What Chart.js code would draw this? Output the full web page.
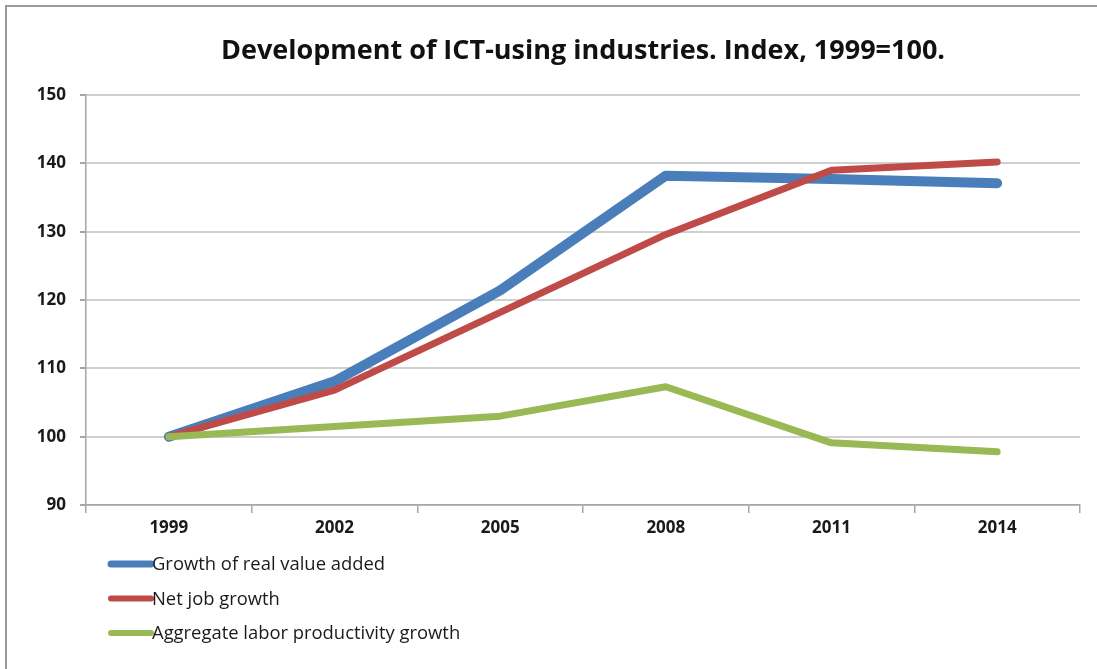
<!DOCTYPE html>
<html>
<head>
<meta charset="utf-8">
<script src="https://cdn.jsdelivr.net/npm/chart.js@4/dist/chart.umd.min.js"></script>
<style>
  html, body { margin: 0; padding: 0; background: #fff; overflow: hidden; }
  #wrap { position: relative; width: 1097px; height: 669px; }
  #frame { position: absolute; left: 5px; top: 5px; right: 0; bottom: 0;
           border-top: 2px solid #9a9a9a; border-left: 2px solid #9a9a9a; pointer-events: none; }
  canvas { display: block; }
</style>
</head>
<body>
<div id="wrap">
  <canvas id="chart" width="1097" height="669"></canvas>
  <div id="frame"></div>
</div>
<script>
const years = ['1999', '2002', '2005', '2008', '2011', '2014'];
const realValueAdded = [100, 108.1, 121.4, 138.2, 137.7, 137.1];
const netJobGrowth = [100, 106.8, 118.2, 129.6, 139.0, 140.2];
const laborProductivity = [100, 101.5, 103.0, 107.3, 99.1, 97.8];
const yTicks = [90, 100, 110, 120, 130, 140, 150];

const FONT = "'Open Sans', 'Liberation Sans', sans-serif";

// Vertical legend under the plot, drawn on the same canvas
const stackedLegend = {
  id: 'stackedLegend',
  afterDraw(chart) {
    const ctx = chart.ctx;
    const x0 = 111, x1 = 151, y0 = 564, step = 34.5;
    ctx.save();
    chart.data.datasets.forEach((ds, i) => {
      const y = y0 + i * step;
      ctx.beginPath();
      ctx.lineCap = 'round';
      ctx.strokeStyle = ds.borderColor;
      ctx.lineWidth = ds.legendWidth;
      ctx.moveTo(x0, y);
      ctx.lineTo(x1, y);
      ctx.stroke();
      ctx.fillStyle = '#1a1a1a';
      ctx.font = '18.4px ' + FONT;
      ctx.textBaseline = 'middle';
      ctx.textAlign = 'left';
      ctx.fillText(ds.label, 152, y + 1);
    });
    ctx.restore();
  }
};

new Chart(document.getElementById('chart'), {
  type: 'line',
  data: {
    labels: years,
    datasets: [
      { label: 'Growth of real value added', data: realValueAdded,
        borderColor: '#4a7ebb', borderWidth: 10, legendWidth: 7, order: 3 },
      { label: 'Net job growth', data: netJobGrowth,
        borderColor: '#be4b48', borderWidth: 7, legendWidth: 6, order: 2 },
      { label: 'Aggregate labor productivity growth', data: laborProductivity,
        borderColor: '#98b954', borderWidth: 7, legendWidth: 6, order: 1 }
    ]
  },
  options: {
    responsive: false,
    animation: false,
    layout: { padding: { left: 0, right: 17, top: 0, bottom: 114 } },
    elements: {
      line: { tension: 0, borderCapStyle: 'round', borderJoinStyle: 'round', fill: false },
      point: { radius: 0, hoverRadius: 0 }
    },
    plugins: {
      legend: { display: false },
      tooltip: { enabled: false },
      title: {
        display: true,
        fullSize: false,
        text: 'Development of ICT-using industries. Index, 1999=100.',
        color: '#111',
        font: { family: FONT, size: 27, weight: 'bold', lineHeight: 1.2 },
        padding: { top: 35, bottom: 27.6 }
      }
    },
    scales: {
      x: {
        offset: true,
        grid: { offset: true, drawOnChartArea: false, drawTicks: true, tickLength: 8,
                color: '#a6a6a6', lineWidth: 1.5 },
        border: { color: '#a6a6a6', width: 1.5 },
        ticks: { color: '#1a1a1a', padding: 5, maxRotation: 0,
                 font: { family: FONT, size: 17, weight: 'bold' } },
        afterFit(scale) { scale.height = 50; }
      },
      y: {
        min: 90, max: 150,
        afterBuildTicks(scale) { scale.ticks = yTicks.map(v => ({ value: v })); },
        grid: { color: '#cfcfcf', lineWidth: 2, tickLength: 6, tickColor: '#a6a6a6' },
        border: { color: '#a6a6a6', width: 1.5 },
        ticks: { color: '#1a1a1a', padding: 14,
                 font: { family: FONT, size: 17, weight: 'bold' } },
        afterFit(scale) { scale.width = 86; }
      }
    }
  },
  plugins: [stackedLegend]
});
</script>
</body>
</html>
